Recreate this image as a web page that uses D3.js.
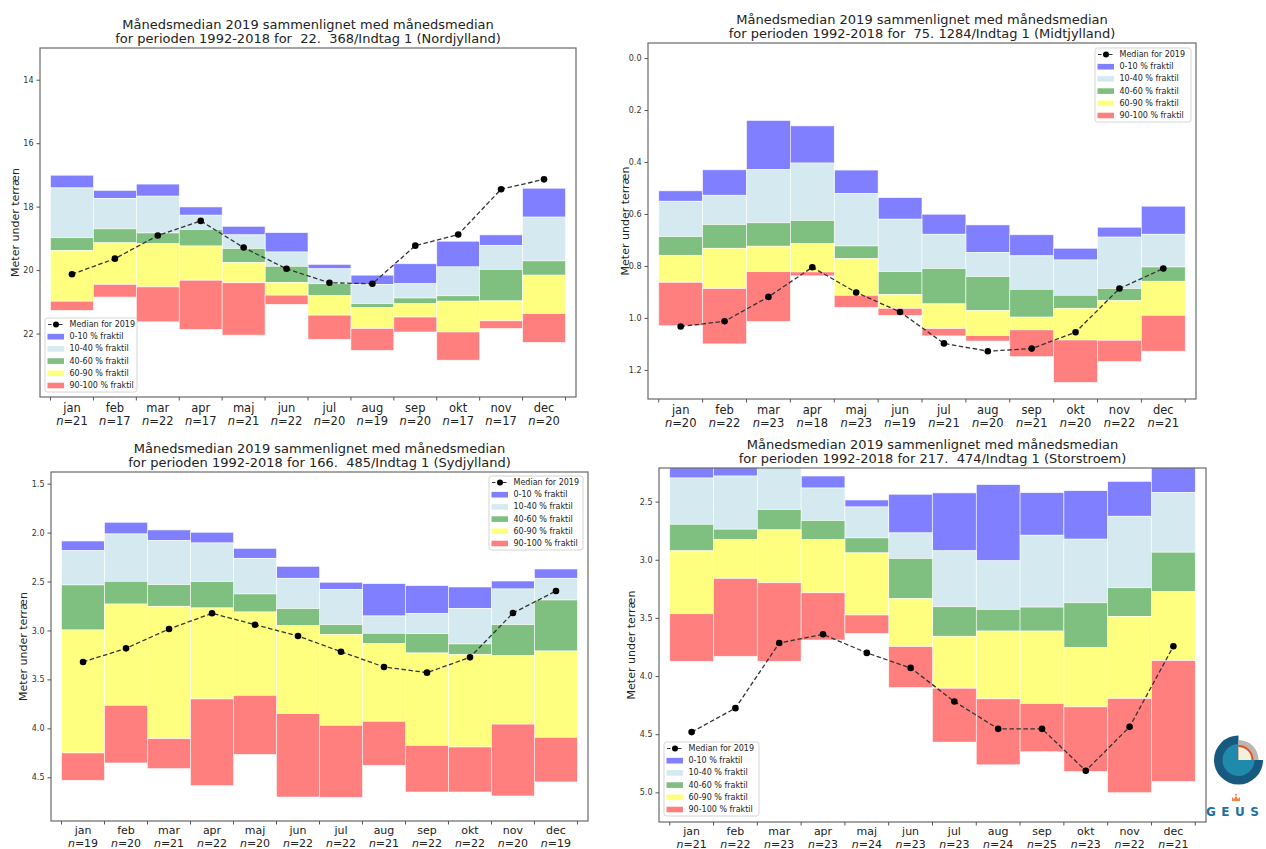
<!DOCTYPE html>
<html>
<head>
<meta charset="utf-8">
<script src="https://cdn.jsdelivr.net/npm/d3@7"></script>
<style>
  html, body { margin: 0; padding: 0; background: #fff; }
  svg { display: block; font-family: "DejaVu Sans", sans-serif; }
</style>
</head>
<body>
<svg id="chart" width="1266" height="849"></svg>
<script>
// ---------------- DATA ----------------
const months = ["jan","feb","mar","apr","maj","jun","jul","aug","sep","okt","nov","dec"];
const titleLine1 = "Månedsmedian 2019 sammenlignet med månedsmedian";
const titleLine2 = [
  "for perioden 1992-2018 for  22.  368/Indtag 1 (Nordjylland)",
  "for perioden 1992-2018 for  75. 1284/Indtag 1 (Midtjylland)",
  "for perioden 1992-2018 for 166.  485/Indtag 1 (Sydjylland)",
  "for perioden 1992-2018 for 217.  474/Indtag 1 (Storstroem)"
];
const legendLabels = ["Median for 2019","0-10 % fraktil","10-40 % fraktil","40-60 % fraktil","60-90 % fraktil","90-100 % fraktil"];
const yLabel = "Meter under terræn";

// Nordjylland
const nordQ0   = [17.01,17.49,17.29,18.01,18.62,18.82,19.82,20.16,19.80,19.09,18.89,17.42];
const nordQ10  = [17.41,17.74,17.67,18.27,18.89,19.43,19.96,20.45,20.43,19.90,19.22,18.33];
const nordQ40  = [18.98,18.70,18.83,18.72,19.32,19.88,20.43,21.06,20.88,20.81,19.98,19.71];
const nordQ60  = [19.38,19.14,19.17,19.24,19.76,20.39,20.80,21.18,21.06,20.98,20.97,20.16];
const nordQ90  = [20.98,20.45,20.53,20.32,20.40,20.79,21.42,21.84,21.48,21.95,21.60,21.37];
const nordQ100 = [21.27,20.85,21.63,21.87,22.05,21.08,22.18,22.53,21.95,22.84,21.84,22.28];
const nordMedian = [20.13,19.64,18.91,18.45,19.29,19.96,20.40,20.43,19.23,18.88,17.45,17.14];
const nordN = [21,17,22,17,21,22,20,19,20,17,17,20];
const nordTicks = [14,16,18,20,22];

// Midtjylland
const midtQ0   = [0.511,0.430,0.240,0.261,0.431,0.537,0.601,0.642,0.680,0.732,0.651,0.570];
const midtQ10  = [0.551,0.528,0.429,0.404,0.521,0.620,0.678,0.748,0.761,0.777,0.689,0.678];
const midtQ40  = [0.687,0.641,0.634,0.625,0.723,0.822,0.810,0.841,0.890,0.913,0.887,0.804];
const midtQ60  = [0.759,0.732,0.724,0.714,0.772,0.910,0.946,0.972,0.997,0.963,0.933,0.859];
const midtQ90  = [0.863,0.887,0.822,0.823,0.913,0.963,1.041,1.068,1.046,1.085,1.086,0.990];
const midtQ100 = [1.030,1.100,1.014,0.838,0.959,0.990,1.069,1.089,1.149,1.248,1.168,1.128];
const midtMedian = [1.033,1.013,0.919,0.805,0.902,0.977,1.098,1.128,1.118,1.055,0.887,0.810];
const midtN = [20,22,23,18,23,19,21,20,21,20,22,21];
const midtTicks = [0.0,0.2,0.4,0.6,0.8,1.0,1.2];

// Sydjylland
const sydQ0   = [2.086,1.895,1.973,1.997,2.161,2.345,2.508,2.522,2.542,2.556,2.495,2.372];
const sydQ10  = [2.185,2.014,2.082,2.106,2.263,2.467,2.580,2.852,2.828,2.774,2.576,2.467];
const sydQ40  = [2.535,2.498,2.532,2.501,2.627,2.777,2.941,3.029,3.033,3.138,2.941,2.689];
const sydQ60  = [2.995,2.730,2.753,2.770,2.811,2.951,3.040,3.135,3.230,3.244,3.257,3.210];
const sydQ90  = [4.252,3.765,4.106,3.700,3.663,3.850,3.969,3.928,4.174,4.191,3.957,4.092];
const sydQ100 = [4.531,4.354,4.412,4.586,4.266,4.702,4.705,4.378,4.651,4.651,4.691,4.548];
const sydMedian = [3.322,3.183,2.985,2.825,2.941,3.057,3.217,3.373,3.431,3.275,2.822,2.597];
const sydN = [19,20,21,22,20,22,22,21,22,22,20,19];
const sydTicks = [1.5,2.0,2.5,3.0,3.5,4.0,4.5];

// Storstroem
const storQ0   = [2.15,2.15,2.00,2.280,2.486,2.437,2.425,2.354,2.423,2.406,2.326,2.10];
const storQ10  = [2.297,2.280,2.15,2.383,2.546,2.769,2.923,3.009,2.789,2.823,2.626,2.423];
const storQ40  = [2.695,2.737,2.569,2.663,2.812,2.989,3.404,3.427,3.407,3.370,3.241,2.935];
const storQ60  = [2.923,2.826,2.743,2.826,2.941,3.335,3.658,3.613,3.613,3.753,3.487,3.272];
const storQ90  = [3.464,3.161,3.198,3.284,3.475,3.747,4.105,4.196,4.236,4.265,4.193,3.867];
const storQ100 = [3.873,3.830,3.873,3.690,3.633,4.099,4.568,4.763,4.651,4.820,5.003,4.906];
const storMedian = [4.482,4.276,3.716,3.641,3.801,3.930,4.219,4.454,4.454,4.814,4.437,3.744];
const storN = [21,22,23,23,24,23,23,24,25,23,22,21];
const storTicks = [2.5,3.0,3.5,4.0,4.5,5.0];

// Colours of the quantile bands
const bandColors = ["#7f7fff","#d5eaf0","#7fbf7f","#ffff7f","#ff7f7f"];

// ---------------- LAYOUT ----------------
const panels = [
  { q:[nordQ0,nordQ10,nordQ40,nordQ60,nordQ90,nordQ100], med:nordMedian, n:nordN, ticks:nordTicks, fmt:d3.format("d"),
    dom:[13.0,24.0], box:{l:40,t:48,r:576,b:397}, title:titleLine2[0], ylx:15, leg:{x:45,y:318,w:92}, mOff:14.5, nOff:27.5, fs:11.5 },
  { q:[midtQ0,midtQ10,midtQ40,midtQ60,midtQ90,midtQ100], med:midtMedian, n:midtN, ticks:midtTicks, fmt:d3.format(".1f"),
    dom:[-0.058,1.312], box:{l:648,t:43,r:1196,b:399}, title:titleLine2[1], ylx:625, leg:{x:1095,y:48,w:96}, mOff:14.5, nOff:27.5, fs:11.5 },
  { q:[sydQ0,sydQ10,sydQ40,sydQ60,sydQ90,sydQ100], med:sydMedian, n:sydN, ticks:sydTicks, fmt:d3.format(".1f"),
    dom:[1.381,4.947], box:{l:51,t:472,r:588,b:821}, title:titleLine2[2], ylx:23, leg:{x:489,y:476,w:94}, mOff:13, nOff:25.5, fs:11 },
  { q:[storQ0,storQ10,storQ40,storQ60,storQ90,storQ100], med:storMedian, n:storN, ticks:storTicks, fmt:d3.format(".1f"),
    dom:[2.211,5.255], box:{l:659,t:468,r:1206,b:822}, title:titleLine2[3], ylx:631, leg:{x:664,y:742,w:95}, mOff:13, nOff:25.5, fs:11 }
];

const svg = d3.select("#chart");

panels.forEach((p, pi) => {
  const B = p.box;
  const g = svg.append("g");
  const x = d3.scaleBand().domain(months).range([B.l, B.r]).paddingInner(0).paddingOuter(0.245);
  const y = d3.scaleLinear().domain(p.dom).range([B.t, B.b]);

  const clipId = "clip" + pi;
  g.append("clipPath").attr("id", clipId).append("rect")
    .attr("x", B.l).attr("y", B.t).attr("width", B.r - B.l).attr("height", B.b - B.t);

  const plot = g.append("g").attr("clip-path", `url(#${clipId})`);

  // Quantile bands
  for (let k = 0; k < 5; k++) {
    plot.append("g").selectAll("rect")
      .data(months.map((m, i) => ({ m, a: p.q[k][i], b: p.q[k + 1][i] })))
      .join("rect")
      .attr("x", d => x(d.m))
      .attr("width", x.bandwidth())
      .attr("y", d => y(Math.min(d.a, d.b)))
      .attr("height", d => Math.abs(y(d.b) - y(d.a)))
      .attr("fill", bandColors[k])
      .attr("stroke", "#ffffff")
      .attr("stroke-width", 0.7)
      .attr("stroke-opacity", 0.8);
  }

  // Median line
  const pts = months.map((m, i) => ({ m, v: p.med[i] }));
  const line = d3.line().x(d => x(d.m) + x.bandwidth() / 2).y(d => y(d.v));
  plot.append("path").datum(pts)
    .attr("d", line).attr("fill", "none")
    .attr("stroke", "#333").attr("stroke-width", 1.3)
    .attr("stroke-dasharray", "4.5,2.5");
  plot.append("g").selectAll("circle").data(pts).join("circle")
    .attr("cx", d => x(d.m) + x.bandwidth() / 2)
    .attr("cy", d => y(d.v)).attr("r", 3.3).attr("fill", "#000");

  // Frame
  g.append("rect").attr("x", B.l).attr("y", B.t)
    .attr("width", B.r - B.l).attr("height", B.b - B.t)
    .attr("fill", "none").attr("stroke", "#6a6a6a").attr("stroke-width", 1.2);

  // Y axis
  const yAxis = d3.axisLeft(y).tickValues(p.ticks).tickFormat(p.fmt).tickSize(3.5).tickPadding(3);
  const ya = g.append("g").attr("transform", `translate(${B.l},0)`).call(yAxis);
  ya.select(".domain").remove();
  ya.selectAll("line").attr("stroke", "#555");
  ya.selectAll("text").attr("font-size", 8).attr("fill", "#333").attr("font-family", "DejaVu Sans");

  // X tick marks at bar edges
  const edges = months.map(m => x(m)).concat([x(months[11]) + x.bandwidth()]);
  g.append("g").selectAll("line").data(edges).join("line")
    .attr("x1", d => d).attr("x2", d => d)
    .attr("y1", B.b).attr("y2", B.b + 3.5)
    .attr("stroke", "#555").attr("stroke-width", 1);

  // Month labels + n
  const xl = g.append("g").attr("font-size", p.fs).attr("fill", "#222").attr("text-anchor", "middle");
  months.forEach((m, i) => {
    const cx = x(m) + x.bandwidth() / 2;
    xl.append("text").attr("x", cx).attr("y", B.b + p.mOff).text(m);
    const t = xl.append("text").attr("x", cx).attr("y", B.b + p.nOff);
    t.append("tspan").attr("font-style", "italic").text("n");
    t.append("tspan").text("=" + p.n[i]);
  });

  // Y label
  g.append("text")
    .attr("transform", `translate(${p.ylx},${(B.t + B.b) / 2}) rotate(-90)`)
    .attr("text-anchor", "middle").attr("dominant-baseline", "central")
    .attr("font-size", 11).attr("fill", "#222").text(yLabel);

  // Title
  const cxT = (B.l + B.r) / 2;
  g.append("text").attr("x", cxT).attr("y", B.t - 19).attr("text-anchor", "middle")
    .attr("font-size", 13).attr("fill", "#222").text(titleLine1);
  g.append("text").attr("x", cxT).attr("y", B.t - 5).attr("text-anchor", "middle")
    .attr("font-size", 13).attr("fill", "#222").style("white-space", "pre").text(p.title);

  // Legend
  const L = p.leg;
  const lg = g.append("g");
  lg.append("rect").attr("x", L.x).attr("y", L.y).attr("width", L.w).attr("height", 74)
    .attr("rx", 2.5).attr("fill", "#fff").attr("fill-opacity", 0.85)
    .attr("stroke", "#d0d0d0").attr("stroke-width", 0.9);
  legendLabels.forEach((lab, i) => {
    const cy = L.y + 6.5 + i * 12.2;
    if (i === 0) {
      lg.append("line").attr("x1", L.x + 3).attr("x2", L.x + 19).attr("y1", cy).attr("y2", cy)
        .attr("stroke", "#333").attr("stroke-width", 1.2).attr("stroke-dasharray", "3.5,2");
      lg.append("circle").attr("cx", L.x + 11).attr("cy", cy).attr("r", 3).attr("fill", "#000");
    } else {
      lg.append("rect").attr("x", L.x + 2.5).attr("y", cy - 2.8).attr("width", 16.5).attr("height", 5.6)
        .attr("fill", bandColors[i - 1]);
    }
    lg.append("text").attr("x", L.x + 24.5).attr("y", cy).attr("dominant-baseline", "central")
      .attr("font-size", 8).attr("fill", "#222").text(lab);
  });
});

// ---------------- GEUS logo ----------------
const logo = svg.append("g").attr("transform", "translate(1238.5,760)");
const arc = d3.arc();
const TAU = Math.PI * 2;
logo.append("path").attr("d", arc({ innerRadius: 0, outerRadius: 24.5, startAngle: Math.PI / 2, endAngle: TAU })).attr("fill", "#17597f");
logo.append("path").attr("d", arc({ innerRadius: 0, outerRadius: 16, startAngle: Math.PI / 2, endAngle: TAU })).attr("fill", "#1f8aab");
logo.append("path").attr("d", arc({ innerRadius: 0, outerRadius: 20, startAngle: 0, endAngle: Math.PI / 2 })).attr("fill", "#bdb6b0");
logo.append("path").attr("d", arc({ innerRadius: 0, outerRadius: 15, startAngle: 0, endAngle: Math.PI / 2 })).attr("fill", "#e8501e");
logo.append("path").attr("d", arc({ innerRadius: 0, outerRadius: 13, startAngle: 0, endAngle: Math.PI / 2 })).attr("fill", "#f3f0dc");
// crown
const crown = svg.append("g").attr("transform", "translate(1236,799)").attr("fill", "#f0824a");
crown.append("path").attr("d", "M-4,2 L-4,-2 L-2,0 L0,-3 L2,0 L4,-2 L4,2 Z");
crown.append("circle").attr("cx", 0).attr("cy", -4.2).attr("r", 1);
svg.append("text").attr("x", 1206).attr("y", 816).attr("font-size", 12).attr("font-weight", "bold")
  .attr("fill", "#1d6fa3").attr("letter-spacing", 5.5).text("GEUS");
</script>
</body>
</html>
